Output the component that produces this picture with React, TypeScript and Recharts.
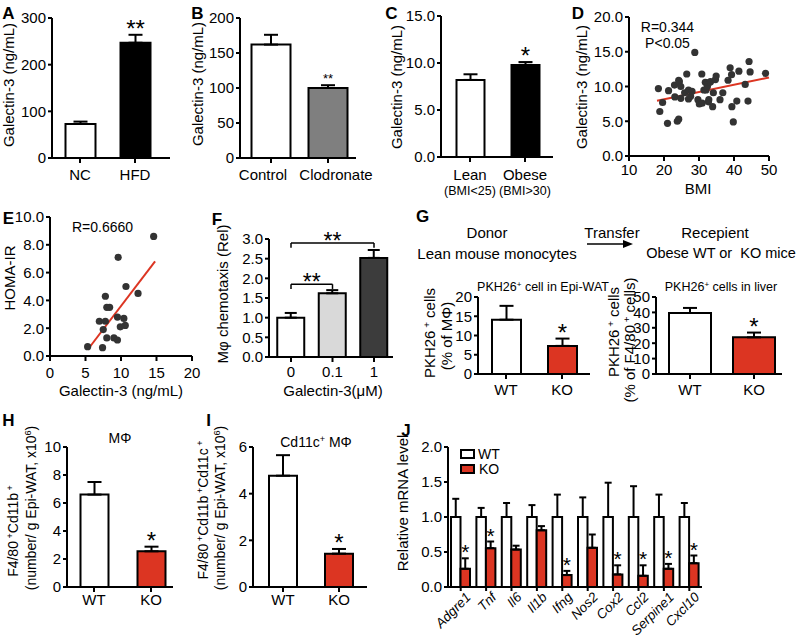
import React from "react";
import {
  BarChart,
  Bar,
  XAxis,
  YAxis,
  ErrorBar,
  LabelList,
  Cell,
  ScatterChart,
  Scatter,
  ReferenceLine,
} from "recharts";

const FONT = "'Liberation Sans', Arial, Helvetica, sans-serif";
const RED = "#dc3522";
const BLACK = "#000";

// A: serum galectin-3, chow vs HFD
const aCats = ["NC", "HFD"];
const aMean = [73, 247];
const aSem = [5, 17];
const aStars = ["", "**"];

// B: macrophage depletion
const bCats = ["Control", "Clodronate"];
const bLabelShift = [-8, 8];
const bMean = [162, 100];
const bSem = [14, 4];
const bStars = ["", "**"];

// C: human lean vs obese
const cCats = ["Lean", "Obese"];
const cSubs = ["(BMI<25)", "(BMI>30)"];
const cMean = [8.2, 9.8];
const cSem = [0.6, 0.3];
const cStars = ["", "*"];

// D: BMI vs galectin-3
const dBmi = [
  18.4, 18.8, 19.6, 21.0, 21.3, 23.0, 23.1, 23.8, 24.2, 24.2, 24.4, 24.8, 24.8,
  25.9, 26.5, 27.0, 27.0, 27.6, 28.0, 28.8, 29.7, 30.1, 30.8, 30.9, 31.4, 31.8,
  32.0, 32.4, 32.7, 32.8, 33.0, 33.3, 33.9, 34.1, 34.7, 34.9, 36.0, 36.8, 38.3,
  38.9, 39.3, 39.4, 39.8, 40.8, 41.4, 43.2, 44.0, 44.3, 44.6, 49.0,
];
const dGal = [
  9.7, 6.4, 7.7, 4.7, 9.4, 10.2, 8.5, 5.0, 5.3, 10.9, 10.7, 10.0, 8.3, 9.1, 11.8,
  9.5, 8.2, 8.6, 9.3, 14.9, 8.1, 7.5, 11.8, 7.6, 9.5, 10.6, 9.5, 10.0, 7.8, 8.1,
  10.6, 10.7, 7.1, 9.1, 11.0, 11.5, 8.1, 9.1, 10.9, 12.7, 11.7, 7.1, 4.9, 7.9,
  12.2, 10.3, 7.9, 13.6, 12.1, 11.9,
];
const dFitX = [18, 50];
const dFitY = [7.95, 11.3];

// E: galectin-3 vs HOMA-IR
const eGal = [5.3, 6.95, 7.4, 7.5, 7.8, 7.8, 8.0, 8.0, 8.4, 9.0, 9.5, 9.5, 9.6, 9.9, 10.4, 10.6, 10.7, 12.4, 14.6];
const eHoma = [0.67, 2.5, 0.6, 1.9, 4.3, 2.5, 3.5, 1.3, 3.5, 1.3, 2.8, 1.15, 7.1, 2.1, 2.7, 2.2, 5.0, 4.5, 8.6];
const eFitX = [5.3, 14.8];
const eFitY = [0.45, 6.8];

// F: chemotaxis
const fCats = ["0", "0.1", "1"];
const fMean = [1.0, 1.62, 2.52];
const fSem = [0.12, 0.08, 0.2];
const fBracketFrom = ["0", "0"];
const fBracketTo = ["1", "0.1"];
const fBracketY = [2.9, 1.85];

// G: adoptive transfer
const gCats = ["WT", "KO"];
const gWatMean = [14.1, 7.3];
const gWatSem = [3.6, 1.9];
const gLiverMean = [39.6, 23.8];
const gLiverSem = [3.3, 3.1];
const koStars = ["", "*"];

// H, I: ATM counts
const hMean = [6.6, 2.55];
const hSem = [0.9, 0.33];
const iMean = [4.77, 1.43];
const iSem = [0.88, 0.2];

// J: gene expression
const jGenes = ["Adgre1", "Tnf", "Il6", "Il1b", "Ifng", "Nos2", "Cox2", "Ccl2", "Serpine1", "Cxcl10"];
const jWt = [1, 1, 1, 1, 1, 1, 1, 1, 1, 1];
const jWtErr = [0.26, 0.13, 0.2, 0.17, 0.32, 0.28, 0.49, 0.44, 0.32, 0.2];
const jKo = [0.26, 0.555, 0.535, 0.81, 0.17, 0.56, 0.18, 0.16, 0.26, 0.34];
const jKoErr = [0.15, 0.095, 0.055, 0.06, 0.06, 0.19, 0.13, 0.15, 0.07, 0.11];
const jStars = ["*", "*", "", "", "*", "", "*", "*", "*", "*"];

const tickFont = { fill: BLACK, fontSize: 15, fontFamily: FONT };
const axisLine = { stroke: BLACK, strokeWidth: 2 };
const f1 = (v: number) => v.toFixed(1);

type Rect = [number, number, number, number];

function frame(plot: Rect, yw: number, mt: number, mr: number, xh: number) {
  const [x0, y0, x1, y1] = plot;
  return {
    pos: { position: "absolute" as const, left: x0 - yw, top: y0 - mt },
    width: x1 - x0 + yw + mr,
    height: y1 - y0 + mt + xh,
    margin: { top: mt, right: mr, bottom: 0, left: 0 },
  };
}

function Star(props: any) {
  const vb = props.viewBox ?? props;
  const { x, y, width, height } = vb;
  const i = props.index;
  const s = props.stars[i];
  if (!s) return null;
  const top = y - (props.sem[i] * height) / props.mean[i];
  return (
    <text
      x={x + width / 2}
      y={top + props.dy}
      textAnchor="middle"
      fontSize={props.size}
      fontFamily={FONT}
      fill={BLACK}
    >
      {s}
    </text>
  );
}

type BarPanelProps = {
  plot: Rect;
  centers: [number, number];
  cats: string[];
  mean: number[];
  sem: number[];
  fills: string[];
  stars?: string[];
  starSize?: number;
  starDy?: number;
  yMax: number;
  yTicks: number[];
  fmt?: (v: number) => string;
  barSize: number;
  capW?: number;
  xMargin?: number;
  xTick?: any;
  xh?: number;
  mr?: number;
  children?: React.ReactNode;
};

function BarPanel(p: BarPanelProps) {
  const yw = 50, mt = 30, mr = p.mr ?? 12, xh = p.xh ?? 40;
  const f = frame(p.plot, yw, mt, mr, xh);
  const n = p.cats.length;
  const band = (p.centers[1] - p.centers[0]) / (n - 1);
  const padL = p.centers[0] - band / 2 - p.plot[0];
  const padR = p.plot[2] - (p.centers[1] + band / 2);
  const data = p.cats.map((c, i) => ({ name: c, mean: p.mean[i], err: [0, p.sem[i]] }));
  const size = p.starSize ?? 24;
  const dy = p.starDy ?? 0.43 * size - 8;
  return (
    <div style={f.pos}>
      <BarChart width={f.width} height={f.height} data={data} margin={f.margin}>
        <XAxis
          dataKey="name"
          height={xh}
          padding={{ left: padL, right: padR }}
          interval={0}
          axisLine={axisLine}
          tickLine={axisLine}
          tickSize={5}
          tickMargin={p.xMargin ?? 4}
          tick={p.xTick ?? tickFont}
        />
        <YAxis
          width={yw}
          domain={[0, p.yMax]}
          ticks={p.yTicks}
          tickFormatter={p.fmt}
          interval={0}
          axisLine={axisLine}
          tickLine={axisLine}
          tickSize={4}
          tickMargin={2}
          tick={tickFont}
        />
        <Bar dataKey="mean" barSize={p.barSize} stroke={BLACK} strokeWidth={2} isAnimationActive={false}>
          {data.map((_, i) => (
            <Cell key={i} fill={p.fills[i]} />
          ))}
          <ErrorBar dataKey="err" direction="y" width={p.capW ?? 7} stroke={BLACK} strokeWidth={2} />
          {p.stars && (
            <LabelList
              dataKey="mean"
              content={(lp: any) => (
                <Star {...lp} mean={p.mean} sem={p.sem} stars={p.stars} size={size} dy={dy} />
              )}
            />
          )}
        </Bar>
        {p.children}
      </BarChart>
    </div>
  );
}

const Dot = (p: any) => <circle cx={p.cx} cy={p.cy} r={3.6} fill="#333" />;

type ScatterPanelProps = {
  plot: Rect;
  xs: number[];
  ys: number[];
  fitX: number[];
  fitY: number[];
  xDom: [number, number];
  xTicks: number[];
  yDom: [number, number];
  yTicks: number[];
  xMargin: number;
};

function ScatterPanel(p: ScatterPanelProps) {
  const yw = 50, mt = 20, mr = 12, xh = 30;
  const f = frame(p.plot, yw, mt, mr, xh);
  const pts = p.xs.map((x, i) => ({ x, y: p.ys[i] }));
  return (
    <div style={f.pos}>
      <ScatterChart width={f.width} height={f.height} margin={f.margin}>
        <XAxis
          type="number"
          dataKey="x"
          domain={p.xDom}
          ticks={p.xTicks}
          height={xh}
          interval={0}
          axisLine={axisLine}
          tickLine={axisLine}
          tickSize={5}
          tickMargin={p.xMargin}
          tick={tickFont}
        />
        <YAxis
          type="number"
          dataKey="y"
          width={yw}
          domain={p.yDom}
          ticks={p.yTicks}
          tickFormatter={f1}
          interval={0}
          axisLine={axisLine}
          tickLine={axisLine}
          tickSize={4}
          tickMargin={2}
          tick={tickFont}
        />
        <ReferenceLine
          segment={[
            { x: p.fitX[0], y: p.fitY[0] },
            { x: p.fitX[1], y: p.fitY[1] },
          ]}
          stroke={RED}
          strokeWidth={2}
          ifOverflow="visible"
        />
        <Scatter data={pts} shape={Dot} isAnimationActive={false} />
      </ScatterChart>
    </div>
  );
}

function ShiftTick(props: any) {
  const { x, y, payload } = props;
  const i = bCats.indexOf(payload.value);
  return (
    <text x={x + bLabelShift[i]} y={y + 11} textAnchor="middle" fontSize={15} fontFamily={FONT} fill={BLACK}>
      {payload.value}
    </text>
  );
}

function BmiTick(props: any) {
  const { x, y, payload } = props;
  const i = cCats.indexOf(payload.value);
  return (
    <g fontFamily={FONT} fill={BLACK}>
      <text x={x} y={y + 14} textAnchor="middle" fontSize={15}>
        {payload.value}
      </text>
      <text x={x} y={y + 29} textAnchor="middle" fontSize={12.5}>
        {cSubs[i]}
      </text>
    </g>
  );
}

function GeneTick(props: any) {
  const { x, y, payload } = props;
  const px = x + 11;
  const py = y + 5;
  return (
    <text
      x={px}
      y={py}
      transform={`rotate(-45 ${px} ${py})`}
      textAnchor="end"
      fontSize={13.5}
      fontStyle="italic"
      fontFamily={FONT}
      fill={BLACK}
    >
      {payload.value}
    </text>
  );
}

function PanelJ() {
  const plot: Rect = [448, 447, 702, 587];
  const yw = 50, mt = 30, mr = 12, xh = 60;
  const f = frame(plot, yw, mt, mr, xh);
  const data = jGenes.map((g, i) => ({
    name: g,
    wt: jWt[i],
    wtE: [0, jWtErr[i]],
    ko: jKo[i],
    koE: [0, jKoErr[i]],
  }));
  return (
    <div style={f.pos}>
      <BarChart width={f.width} height={f.height} data={data} margin={f.margin} barGap={0}>
        <XAxis
          dataKey="name"
          height={xh}
          interval={0}
          axisLine={axisLine}
          tickLine={axisLine}
          tickSize={4}
          tickMargin={2}
          tick={<GeneTick />}
        />
        <YAxis
          width={yw}
          domain={[0, 2]}
          ticks={[0, 0.5, 1, 1.5, 2]}
          tickFormatter={f1}
          interval={0}
          axisLine={axisLine}
          tickLine={axisLine}
          tickSize={4}
          tickMargin={2}
          tick={tickFont}
        />
        <Bar dataKey="wt" barSize={9.5} fill="#fff" stroke={BLACK} strokeWidth={2} isAnimationActive={false}>
          <ErrorBar dataKey="wtE" direction="y" width={3.5} stroke={BLACK} strokeWidth={2} />
        </Bar>
        <Bar dataKey="ko" barSize={9.5} fill={RED} stroke={BLACK} strokeWidth={2} isAnimationActive={false}>
          <ErrorBar dataKey="koE" direction="y" width={3.5} stroke={BLACK} strokeWidth={2} />
          <LabelList
            dataKey="ko"
            content={(lp: any) => (
              <Star {...lp} mean={jKo} sem={jKoErr} stars={jStars} size={21} dy={1} />
            )}
          />
        </Bar>
      </BarChart>
    </div>
  );
}

type TxtProps = {
  x: number;
  y: number;
  size?: number;
  rot?: boolean;
  bold?: boolean;
  children: React.ReactNode;
};

function Txt({ x, y, size = 15, rot, bold, children }: TxtProps) {
  return (
    <div
      style={{
        position: "absolute",
        left: x,
        top: y,
        transform: `translate(-50%, -50%)${rot ? " rotate(-90deg)" : ""}`,
        fontSize: size,
        fontWeight: bold ? "bold" : "normal",
        whiteSpace: "nowrap",
        lineHeight: 1,
        fontFamily: FONT,
        color: BLACK,
      }}
    >
      {children}
    </div>
  );
}

const Sup = ({ children }: { children: React.ReactNode }) => (
  <span style={{ fontSize: "0.65em", position: "relative", top: "-0.55em" }}>{children}</span>
);

function LegendBox({ x, y, fill }: { x: number; y: number; fill: string }) {
  return (
    <div
      style={{
        position: "absolute",
        left: x,
        top: y,
        width: 15,
        height: 10,
        boxSizing: "border-box",
        border: "2px solid #000",
        background: fill,
      }}
    />
  );
}

export default function App() {
  return (
    <div
      style={{
        position: "absolute",
        left: 0,
        top: 0,
        width: 800,
        height: 640,
        background: "#fff",
        overflow: "hidden",
        fontFamily: FONT,
      }}
    >
      {/* A */}
      <BarPanel
        plot={[52, 18, 170, 158]}
        centers={[80, 135]}
        cats={aCats}
        mean={aMean}
        sem={aSem}
        fills={["#fff", "#000"]}
        stars={aStars}
        yMax={300}
        yTicks={[0, 100, 200, 300]}
        barSize={30}
        xMargin={6}
      />
      {/* B */}
      <BarPanel
        plot={[240, 18, 356, 158]}
        centers={[271, 328]}
        cats={bCats}
        mean={bMean}
        sem={bSem}
        fills={["#fff", "#7f7f7f"]}
        stars={bStars}
        starSize={13}
        starDy={-2}
        yMax={200}
        yTicks={[0, 50, 100, 150, 200]}
        barSize={39}
        xMargin={6}
        xTick={<ShiftTick />}
        mr={34}
      />
      {/* C */}
      <BarPanel
        plot={[441, 16, 553, 157]}
        centers={[470, 525]}
        cats={cCats}
        mean={cMean}
        sem={cSem}
        fills={["#fff", "#000"]}
        stars={cStars}
        yMax={15}
        yTicks={[0, 5, 10, 15]}
        fmt={f1}
        barSize={28}
        xTick={<BmiTick />}
        xh={45}
      />
      {/* D */}
      <ScatterPanel
        plot={[629, 17, 769, 156]}
        xs={dBmi}
        ys={dGal}
        fitX={dFitX}
        fitY={dFitY}
        xDom={[10, 50]}
        xTicks={[10, 20, 30, 40, 50]}
        yDom={[0, 20]}
        yTicks={[0, 5, 10, 15, 20]}
        xMargin={3}
      />
      {/* E */}
      <ScatterPanel
        plot={[50, 217, 192, 356]}
        xs={eGal}
        ys={eHoma}
        fitX={eFitX}
        fitY={eFitY}
        xDom={[0, 20]}
        xTicks={[0, 5, 10, 15, 20]}
        yDom={[0, 10]}
        yTicks={[0, 2, 4, 6, 8, 10]}
        xMargin={6}
      />
      {/* F */}
      <BarPanel
        plot={[269, 239, 393, 357]}
        centers={[291, 374]}
        cats={fCats}
        mean={fMean}
        sem={fSem}
        fills={["#fff", "#d9d9d9", "#3c3c3c"]}
        yMax={3}
        yTicks={[0, 0.5, 1, 1.5, 2, 2.5, 3]}
        fmt={f1}
        barSize={27}
        capW={6}
        xMargin={4}
      >
        {fBracketY.map((by, k) => [
          <ReferenceLine
            key={`h${k}`}
            segment={[
              { x: fBracketFrom[k], y: by },
              { x: fBracketTo[k], y: by },
            ]}
            stroke={BLACK}
            strokeWidth={1.5}
            ifOverflow="visible"
            label={{ value: "**", position: "top", offset: -6, fontSize: 23, fill: BLACK, fontFamily: FONT }}
          />,
          <ReferenceLine
            key={`l${k}`}
            segment={[
              { x: fBracketFrom[k], y: by },
              { x: fBracketFrom[k], y: by - 0.12 },
            ]}
            stroke={BLACK}
            strokeWidth={1.5}
            ifOverflow="visible"
          />,
          <ReferenceLine
            key={`r${k}`}
            segment={[
              { x: fBracketTo[k], y: by },
              { x: fBracketTo[k], y: by - 0.12 },
            ]}
            stroke={BLACK}
            strokeWidth={1.5}
            ifOverflow="visible"
          />,
        ])}
      </BarPanel>
      {/* G */}
      <BarPanel
        plot={[478, 297, 590, 374]}
        centers={[506, 562]}
        cats={gCats}
        mean={gWatMean}
        sem={gWatSem}
        fills={["#fff", RED]}
        stars={koStars}
        yMax={20}
        yTicks={[0, 5, 10, 15, 20]}
        barSize={29}
        xMargin={5}
      />
      <BarPanel
        plot={[656, 297, 782, 374]}
        centers={[690, 754]}
        cats={gCats}
        mean={gLiverMean}
        sem={gLiverSem}
        fills={["#fff", RED]}
        stars={koStars}
        yMax={50}
        yTicks={[0, 10, 20, 30, 40, 50]}
        barSize={42}
        xMargin={5}
      />
      {/* H */}
      <BarPanel
        plot={[67, 447, 173, 587]}
        centers={[94, 151]}
        cats={gCats}
        mean={hMean}
        sem={hSem}
        fills={["#fff", RED]}
        stars={koStars}
        yMax={10}
        yTicks={[0, 2, 4, 6, 8, 10]}
        barSize={28}
        xMargin={2}
      />
      {/* I */}
      <BarPanel
        plot={[253, 447, 367, 587]}
        centers={[283, 339]}
        cats={gCats}
        mean={iMean}
        sem={iSem}
        fills={["#fff", RED]}
        stars={koStars}
        yMax={6}
        yTicks={[0, 2, 4, 6]}
        barSize={28}
        xMargin={2}
      />
      {/* J */}
      <PanelJ />

      {/* panel letters */}
      <Txt x={8.5} y={12.5} size={17} bold>A</Txt>
      <Txt x={197.5} y={12.5} size={17} bold>B</Txt>
      <Txt x={391.5} y={12.5} size={17} bold>C</Txt>
      <Txt x={578} y={12.5} size={17} bold>D</Txt>
      <Txt x={8.5} y={218} size={17} bold>E</Txt>
      <Txt x={217} y={219} size={17} bold>F</Txt>
      <Txt x={422.5} y={215.5} size={17} bold>G</Txt>
      <Txt x={8.5} y={420} size={17} bold>H</Txt>
      <Txt x={208.5} y={420} size={17} bold>I</Txt>
      <Txt x={406} y={430} size={17} bold>J</Txt>

      {/* axis titles row 1 */}
      <Txt x={8} y={85} rot>Galectin-3 (ng/mL)</Txt>
      <Txt x={197} y={84} rot>Galectin-3 (ng/mL)</Txt>
      <Txt x={396} y={87} rot>Galectin-3 (ng/mL)</Txt>
      <Txt x={581} y={87} rot>Galectin-3 (ng/mL)</Txt>
      <Txt x={698} y={188}>BMI</Txt>
      <Txt x={667.5} y={27} size={14}>R=0.344</Txt>
      <Txt x={667.5} y={43} size={14}>P&lt;0.05</Txt>

      {/* row 2 */}
      <Txt x={9} y={278} rot>HOMA-IR</Txt>
      <Txt x={121} y={390}>Galectin-3 (ng/mL)</Txt>
      <Txt x={102.5} y={227} size={14}>R=0.6660</Txt>
      <Txt x={222} y={294} rot>Mφ chemotaxis (Rel)</Txt>
      <Txt x={333} y={390}>Galectin-3(μM)</Txt>

      <Txt x={487} y={232}>Donor</Txt>
      <Txt x={497} y={253}>Lean mouse monocytes</Txt>
      <Txt x={612} y={232}>Transfer</Txt>
      <svg style={{ position: "absolute", left: 585, top: 238 }} width={50} height={12}>
        <line x1={2} y1={6} x2={40} y2={6} stroke={BLACK} strokeWidth={1.5} />
        <polygon points="38,2 48,6 38,10" fill={BLACK} />
      </svg>
      <Txt x={715} y={232}>Recepient</Txt>
      <Txt x={721} y={253} size={14.5}>Obese WT or&nbsp; KO mice</Txt>

      <Txt x={543} y={287} size={12.5}>
        PKH26<Sup>+</Sup> cell in Epi-WAT
      </Txt>
      <Txt x={721} y={287} size={12.5}>
        PKH26<Sup>+</Sup> cells in liver
      </Txt>
      <Txt x={429} y={333} rot>
        PKH26<Sup> +</Sup> cells
      </Txt>
      <Txt x={446} y={336} rot>(% of MΦ)</Txt>
      <Txt x={613} y={332} rot>
        PKH26<Sup> +</Sup> cells
      </Txt>
      <Txt x={629} y={340} rot>
        (% of F4/80<Sup> +</Sup> cells)
      </Txt>

      {/* row 3 */}
      <Txt x={13} y={531} size={14} rot>
        F4/80<Sup> +</Sup>Cd11b<Sup> +</Sup>
      </Txt>
      <Txt x={31} y={508} size={14} rot>
        (number/ g Epi-WAT, x10<Sup>6</Sup>)
      </Txt>
      <Txt x={120} y={438} size={14}>MΦ</Txt>

      <Txt x={203} y={510} size={14} rot>
        F4/80<Sup> +</Sup>Cd11b<Sup> +</Sup>Cd11c<Sup> +</Sup>
      </Txt>
      <Txt x={220} y={508} size={14} rot>
        (number/ g Epi-WAT, x10<Sup>6</Sup>)
      </Txt>
      <Txt x={316} y={442} size={14}>
        Cd11c<Sup>+</Sup> MΦ
      </Txt>

      <Txt x={402} y={503} rot>Relative mRNA level</Txt>
      <LegendBox x={460} y={449} fill="#fff" />
      <LegendBox x={460} y={464} fill={RED} />
      <Txt x={489} y={454} size={14}>WT</Txt>
      <Txt x={489} y={469} size={14}>KO</Txt>
    </div>
  );
}
